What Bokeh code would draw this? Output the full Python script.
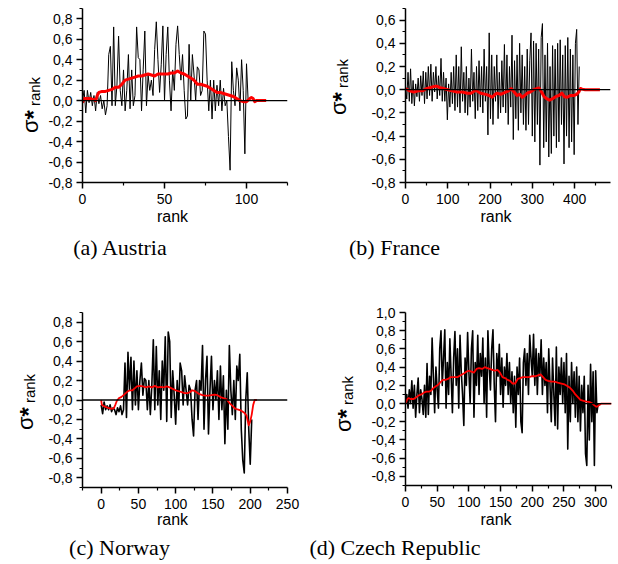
from bokeh.plotting import figure
from bokeh.models import FixedTicker, CustomJSTickFormatter, Span, Div
from bokeh.layouts import column, row
from bokeh.embed import file_html
from bokeh.resources import INLINE

# ---------------- data ----------------
# (a) Austria
at_rank = list(range(0, 102))
at_val = [0.0, 0.1, -0.12, 0.1, -0.02, 0.08, -0.05, 0.05, -0.1, 0.08,
          -0.03, 0.05, -0.08, 0.0, -0.14, -0.05, 0.45, 0.53, -0.05, 0.72,
          -0.05, 0.15, 0.63, 0.1, -0.05, 0.3, -0.1, 0.1, 0.45, -0.08,
          0.3, -0.05, 0.05, 0.72, 0.42, 0.4, -0.1, 0.3, 0.68, -0.05,
          0.25, 0.1, 0.2, 0.05, 0.5, 0.77, 0.4, 0.08, 0.35, 0.73,
          0.0, 0.45, 0.72, 0.2, -0.1, 0.3, 0.1, 0.55, 0.73, 0.45,
          0.2, 0.45, 0.1, -0.18, -0.15, 0.55, 0.0, 0.45, 0.25, 0.0,
          0.33, 0.3, 0.05, 0.1, 0.68, 0.65, 0.2, -0.1, 0.2, -0.18,
          0.2, -0.1, 0.15, -0.05, 0.2, -0.1, 0.12, -0.05, 0.0, -0.35,
          -0.68, 0.38, 0.1, -0.05, 0.32, 0.2, -0.1, 0.4, 0.1, -0.52,
          0.36, 0.0]
at_red_rank = [0, 1, 3, 5, 7, 8, 9, 10, 12, 14, 16, 18, 20, 22, 24, 26, 28, 30, 32, 34,
               36, 38, 40, 42, 44, 46, 48, 50, 52, 54, 56, 58, 60, 62, 64, 66, 68, 70, 72, 74,
               76, 78, 80, 82, 84, 86, 88, 90, 92, 94, 96, 98, 100, 102, 103, 104, 105, 106, 108, 110, 112]
at_red_val = [-0.02, 0.02, 0.02, 0.02, 0.01, 0.0, 0.05, 0.08, 0.09, 0.09, 0.1, 0.11, 0.13, 0.13, 0.16, 0.2, 0.21, 0.22, 0.23, 0.24,
              0.24, 0.25, 0.26, 0.25, 0.24, 0.26, 0.26, 0.26, 0.26, 0.27, 0.27, 0.29, 0.27, 0.26, 0.24, 0.22, 0.2, 0.16, 0.16, 0.15,
              0.14, 0.12, 0.1, 0.08, 0.08, 0.07, 0.06, 0.05, 0.04, 0.02, 0.0, -0.01, -0.01, 0.02, 0.03, 0.02, -0.01, 0.0, 0.0, 0.0, 0.0]

# (b) France
fr_rank = list(range(0, 412, 3))
fr_val = [0.02, -0.08, 0.15, -0.1, 0.18, -0.12, 0.08, -0.14, 0.05, -0.06,
          0.1, -0.1, 0.12, -0.05, 0.16, -0.12, 0.15, -0.08, 0.2, -0.05,
          0.22, -0.1, 0.15, -0.02, 0.2, -0.08, 0.12, -0.05, 0.27, -0.1,
          0.15, -0.1, 0.1, -0.26, 0.05, -0.15, 0.15, -0.12, 0.2, -0.18,
          0.3, -0.15, 0.2, -0.2, 0.37, -0.1, 0.15, -0.2, 0.2, -0.22,
          0.1, -0.15, 0.35, -0.1, 0.15, -0.25, 0.2, -0.18, 0.25, -0.15,
          0.2, -0.2, 0.35, -0.1, 0.2, -0.39, 0.49, -0.25, 0.3, -0.3,
          0.2, -0.1, 0.3, -0.25, 0.15, -0.2, 0.25, -0.15, 0.39, -0.2,
          0.3, -0.3, 0.2, -0.15, 0.47, -0.43, 0.25, -0.25, 0.3, -0.35,
          0.4, -0.2, 0.3, -0.3, 0.2, -0.35, 0.35, -0.3, 0.25, 0.49,
          -0.4, 0.42, -0.45, 0.4, -0.3, 0.35, -0.65, 0.45, 0.57, -0.5,
          0.3, -0.45, 0.4, -0.58, 0.2, -0.55, 0.38, -0.4, 0.35, -0.5,
          0.4, -0.45, 0.43, -0.3, 0.3, -0.64, 0.38, -0.4, 0.45, -0.5,
          0.35, -0.45, 0.3, -0.56, 0.4, 0.52, -0.3, 0.2]
fr_red_rank = [0, 5, 10, 20, 30, 40, 50, 60, 70, 75, 80, 90, 100, 110, 122, 135, 146, 155, 166, 178,
               190, 198, 205, 212, 217, 225, 237, 244, 250, 257, 264, 270, 276, 282, 288, 295, 303, 310, 316, 322,
               328, 335, 341, 347, 355, 363, 370, 376, 383, 390, 398, 405, 410, 414, 418, 425, 440, 460]
fr_red_val = [0.01, 0.0, -0.01, -0.02, -0.01, -0.01, 0.01, 0.02, 0.03, 0.03, 0.02, 0.01, 0.0, -0.01, -0.02, -0.02, -0.03, -0.03, -0.005, -0.03,
              -0.04, -0.05, -0.065, -0.04, -0.03, -0.04, -0.02, -0.01, 0.01, -0.02, -0.05, -0.04, -0.065, -0.05, -0.03, -0.02, 0.0, 0.01, 0.015, -0.02,
              -0.06, -0.08, -0.09, -0.08, -0.06, -0.05, -0.03, -0.06, -0.065, -0.05, -0.05, -0.04, -0.02, 0.01, 0.005, 0.0, 0.0, 0.0]

# (c) Norway
no_rank = list(range(0, 203, 2))
no_val = [-0.05, -0.14, -0.02, -0.1, -0.06, -0.1, -0.05, -0.12, -0.08, -0.1,
          -0.15, -0.08, -0.12, -0.06, -0.15, -0.1, 0.38, -0.18, 0.49, 0.1,
          0.44, -0.1, 0.4, -0.05, 0.3, -0.1, 0.2, 0.38, 0.05, 0.22,
          0.2, -0.1, 0.2, -0.15, 0.15, 0.62, -0.1, 0.55, -0.05, 0.3,
          -0.2, 0.4, 0.1, 0.65, -0.22, 0.7, 0.6, -0.18, 0.3, 0.05,
          -0.25, 0.2, -0.1, 0.38, 0.3, -0.05, 0.25, 0.1, -0.05, 0.15,
          0.1, -0.2, -0.37, 0.1, 0.2, -0.2, 0.2, 0.1, 0.56, -0.3,
          0.2, 0.45, -0.35, 0.1, 0.45, -0.1, 0.2, 0.0, 0.3, -0.2,
          0.35, -0.1, 0.25, -0.45, 0.1, -0.3, 0.56, 0.1, -0.15, 0.2,
          -0.2, 0.35, 0.2, 0.47, -0.3, -0.62, -0.75, 0.0, 0.28, -0.3,
          -0.66, -0.2]
no_red_rank = [0, 1, 3, 6, 9, 12, 15, 17, 19, 21, 24, 27, 30, 33, 36, 39, 42, 45, 48, 52,
               56, 60, 64, 68, 72, 76, 80, 84, 88, 92, 96, 100, 104, 108, 112, 116, 119, 122, 125, 128,
               132, 136, 140, 144, 148, 152, 156, 160, 164, 168, 172, 176, 180, 184, 188, 192, 195, 198, 200, 202,
               204, 206, 209]
no_red_val = [0.0, -0.05, -0.06, -0.07, -0.08, -0.085, -0.09, -0.085, -0.05, -0.01, 0.02, 0.03, 0.05, 0.07, 0.09, 0.1, 0.1, 0.12, 0.14, 0.145,
              0.14, 0.13, 0.14, 0.13, 0.145, 0.13, 0.135, 0.13, 0.14, 0.13, 0.115, 0.1, 0.09, 0.08, 0.07, 0.07, 0.08, 0.1, 0.095, 0.08,
              0.06, 0.05, 0.045, 0.045, 0.05, 0.055, 0.05, 0.03, 0.02, 0.01, -0.03, -0.06, -0.09, -0.1, -0.11, -0.13, -0.16, -0.26, -0.22, -0.15,
              -0.05, 0.0, 0.0]

# (d) Czech Republic
cz_rank = list(range(0, 305, 2))
cz_val = [0.0, 0.1, -0.05, 0.15, 0.0, 0.25, -0.05, 0.2, -0.15, 0.1,
          0.28, -0.1, 0.15, 0.05, -0.12, 0.2, -0.15, 0.44, -0.12, 0.3,
          0.1, 0.72, 0.3, -0.1, 0.4, 0.15, -0.05, 0.6, 0.8, 0.2,
          0.5, 0.81, -0.05, 0.45, 0.1, 0.71, 0.3, -0.1, 0.5, 0.79,
          0.2, 0.6, -0.05, 0.75, 0.35, 0.1, -0.24, 0.5, 0.2, 0.78,
          0.35, 0.0, 0.6, 0.8, -0.15, 0.45, 0.2, 0.75, 0.1, 0.55,
          0.3, 0.72, 0.0, 0.5, -0.15, 0.8, 0.4, 0.15, 0.6, 0.81,
          0.2, -0.2, 0.55, 0.3, 0.65, 0.1, 0.5, -0.04, 0.4, 0.2,
          0.55, 0.1, 0.45, 0.0, 0.35, -0.1, 0.3, -0.26, 0.4, 0.1,
          0.5, -0.2, -0.32, 0.45, 0.6, 0.2, 0.55, 0.1, 0.75, 0.5,
          0.3, 0.76, 0.2, 0.6, 0.1, 0.55, 0.3, 0.7, 0.1, 0.5,
          0.2, 0.45, -0.1, 0.6, 0.2, -0.2, 0.5, 0.1, -0.24, 0.62,
          -0.28, 0.4, 0.1, 0.5, 0.0, 0.45, -0.1, 0.55, -0.5, 0.3,
          -0.2, 0.45, 0.0, 0.35, -0.15, 0.4, -0.2, 0.3, -0.3, 0.2,
          -0.1, 0.3, -0.55, -0.68, 0.2, -0.4, 0.43, -0.2, 0.35, -0.68,
          0.36, -0.1, 0.0]
cz_red_rank = [0, 3, 5, 8, 13, 17, 21, 25, 29, 33, 37, 40, 44, 48, 52, 56, 59, 63, 67, 71,
               76, 82, 87, 92, 96, 100, 104, 108, 112, 116, 121, 125, 129, 133, 137, 141, 145, 149, 153, 157,
               161, 165, 169, 173, 177, 181, 185, 190, 195, 200, 205, 209, 213, 217, 221, 225, 230, 235, 240, 246,
               251, 256, 260, 264, 268, 272, 276, 281, 286, 291, 295, 298, 301, 303, 305, 307, 309, 315, 325]
cz_red_val = [0.0, 0.05, 0.06, 0.05, 0.05, 0.07, 0.09, 0.1, 0.12, 0.13, 0.13, 0.14, 0.17, 0.19, 0.21, 0.24, 0.26, 0.26, 0.27, 0.29,
              0.29, 0.29, 0.31, 0.33, 0.35, 0.36, 0.35, 0.34, 0.38, 0.39, 0.38, 0.4, 0.39, 0.38, 0.37, 0.36, 0.37, 0.34, 0.29, 0.28,
              0.26, 0.25, 0.22, 0.22, 0.27, 0.28, 0.29, 0.29, 0.29, 0.3, 0.3, 0.31, 0.32, 0.29, 0.26, 0.25, 0.24, 0.24, 0.23, 0.22,
              0.21, 0.19, 0.17, 0.14, 0.1, 0.07, 0.04, 0.03, 0.02, 0.015, 0.0, -0.02, -0.035, -0.03, -0.02, -0.01, 0.0, 0.0, 0.0]

captions = ["(a) Austria", "(b) France", "(c) Norway", "(d) Czech Republic"]
x_label = "rank"

FONT = "Liberation Sans"


def fmt_ticks(a, b, step):
    n = int(round((b - a) / step))
    return [round(a + i * step, 3) for i in range(n + 1)]


def make_fig(w, h, bl, br, bt, bb, xr, yr, xmaj, xmin, ymaj, ymin, xs, ys, rxs, rys, black_w, red_w):
    p = figure(width=w, height=h, x_range=xr, y_range=yr,
               output_backend="svg", toolbar_location=None,
               min_border_left=bl, min_border_right=br,
               min_border_top=bt, min_border_bottom=bb, margin=0)
    p.outline_line_color = None
    p.xgrid.grid_line_color = None
    p.ygrid.grid_line_color = None
    p.background_fill_color = "white"
    p.border_fill_color = "white"
    p.xaxis.ticker = FixedTicker(ticks=xmaj, minor_ticks=xmin)
    p.yaxis.ticker = FixedTicker(ticks=ymaj, minor_ticks=ymin)
    p.yaxis.formatter = CustomJSTickFormatter(code="return tick.toFixed(1).replace('.', ',');")
    for ax in (p.xaxis[0], p.yaxis[0]):
        ax.axis_line_color = "black"
        ax.axis_line_width = 1.5
        ax.major_tick_line_color = "black"
        ax.minor_tick_line_color = "black"
        ax.major_tick_line_width = 1.5
        ax.minor_tick_line_width = 1.2
        ax.major_tick_out = 6
        ax.major_tick_in = 0
        ax.minor_tick_out = 3
        ax.minor_tick_in = 0
        ax.major_label_text_font = FONT
        ax.major_label_text_font_size = "14px"
        ax.major_label_text_color = "black"
    p.xaxis.major_label_standoff = 5
    p.yaxis.major_label_standoff = 4

    p.line(xs, ys, line_color="black", line_width=black_w, line_join="round")
    p.add_layout(Span(location=0, dimension="width", line_color="black", line_width=1.3))
    p.line(rxs, rys, line_color="#ff0000", line_width=red_w, line_join="round")
    return p


def ylabel_div(w, h, L, T):
    html = (f'<div style="position:relative; width:{w}px; height:{h}px;">'
            f'<div style="position:absolute; left:{L}px; top:{T}px; transform-origin:0 0; '
            "transform:rotate(-90deg); font-family:'Liberation Sans'; font-size:22px; "
            'line-height:22px; white-space:nowrap; color:#000;">σ'
            '<span style="font-size:24px; font-weight:bold; line-height:0; position:relative; top:4px;">*</span>'
            '<span style="font-size:15px; line-height:0; position:relative; top:2px; margin-left:4px;">rank</span>'
            '</div></div>')
    return Div(text=html, width=w, height=h, margin=0, styles={"overflow": "visible"})


def cap_div(w, h, rcx, rtop, ccx, ctop, cap):
    html = (f'<div style="position:relative; width:{w}px; height:{h}px;">'
            f'<div style="position:absolute; left:{rcx}px; top:{rtop}px; transform:translateX(-50%); '
            "font-family:'Liberation Sans'; font-size:16px; line-height:16px; white-space:nowrap; color:#000;\">"
            f'{x_label}</div>'
            f'<div style="position:absolute; left:{ccx}px; top:{ctop}px; transform:translateX(-50%); '
            "font-family:'Liberation Serif'; font-size:22px; line-height:22px; white-space:nowrap; color:#000;\">"
            f'{cap}</div></div>')
    return Div(text=html, width=w, height=h, margin=0, styles={"overflow": "visible"})


y_major_a = fmt_ticks(-0.8, 0.8, 0.2)
y_minor_a = fmt_ticks(-0.7, 0.9, 0.2)
y_major_b = fmt_ticks(-0.8, 0.6, 0.2)
y_minor_b = fmt_ticks(-0.7, 0.7, 0.2)
y_major_c = fmt_ticks(-0.8, 0.8, 0.2)
y_minor_c = fmt_ticks(-0.9, 0.9, 0.2)
y_major_d = fmt_ticks(-0.8, 1.0, 0.2)
y_minor_d = fmt_ticks(-0.9, 0.9, 0.2)

# (a) Austria : panel x 0..309, y 0..282
fa = make_fig(264, 210, 36, 22, 8, 28, (0, 125), (-0.8, 0.9),
              [0, 50, 100], [25, 75, 125], y_major_a, y_minor_a,
              at_rank, at_val, at_red_rank, at_red_val, 1.0, 3.0)
panel_a = column(row(ylabel_div(45, 210, 20.4, 133), fa, spacing=0, margin=0),
                 cap_div(309, 72, 172.5, -0.8, 120, 26.6, captions[0]), spacing=0, margin=0)

# (b) France : panel x 309..618, y 0..282
fb = make_fig(258, 210, 45, 8, 8, 28, (0, 485), (-0.8, 0.7),
              [0, 100, 200, 300, 400], [50, 150, 250, 350, 450], y_major_b, y_minor_b,
              fr_rank, fr_val, fr_red_rank, fr_red_val, 1.0, 3.0)
panel_b = column(row(ylabel_div(51, 210, 19.4, 115), fb, spacing=0, margin=0),
                 cap_div(309, 72, 187, -0.8, 85.5, 26.6, captions[1]), spacing=0, margin=0)

# (c) Norway : panel x 0..309, y 282..564
fc = make_fig(264, 233, 37, 22, 30, 28, (-25, 250), (-0.9, 0.9),
              [0, 50, 100, 150, 200, 250], [-25, 25, 75, 125, 175, 225], y_major_c, y_minor_c,
              no_rank, no_val, no_red_rank, no_red_val, 1.6, 1.8)
panel_c = column(row(ylabel_div(45, 233, 15.4, 148), fc, spacing=0, margin=0),
                 cap_div(309, 49, 172.5, -3.5, 119.5, 21.6, captions[2]), spacing=0, margin=0)

# (d) Czech Republic : panel x 309..618, y 282..564
fd = make_fig(258, 231, 45, 7, 30, 28, (0, 325), (-0.9, 1.0),
              [0, 50, 100, 150, 200, 250, 300], [25, 75, 125, 175, 225, 275, 325], y_major_d, y_minor_d,
              cz_rank, cz_val, cz_red_rank, cz_red_val, 1.6, 1.8)
panel_d = column(row(ylabel_div(51, 231, 24.4, 150), fd, spacing=0, margin=0),
                 cap_div(309, 51, 187, -1.5, 86, 23.6, captions[3]), spacing=0, margin=0)

layout = column(row(panel_a, panel_b, spacing=0, margin=0),
                row(panel_c, panel_d, spacing=0, margin=0), spacing=0, margin=0)
open("out.html", "w").write(file_html(layout, INLINE, title="sigma rank"))
